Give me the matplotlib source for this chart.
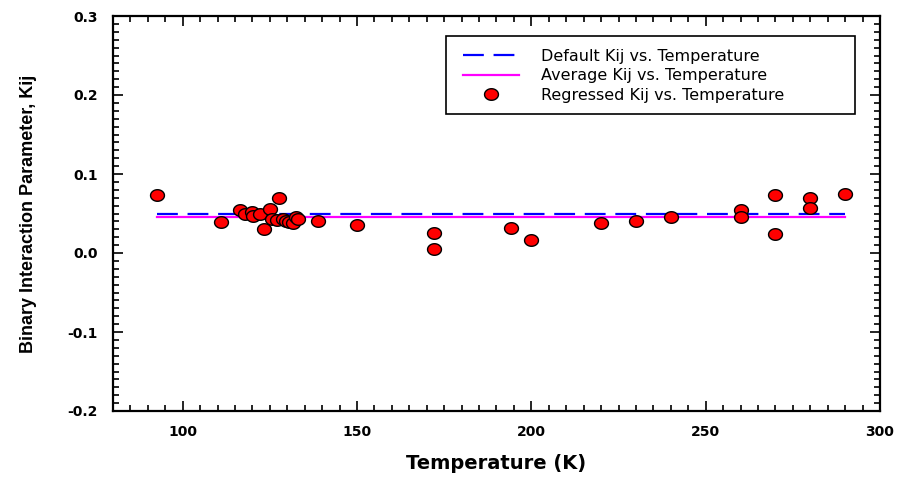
import matplotlib
matplotlib.use("Agg")
import matplotlib.pyplot as plt
import numpy as np
from matplotlib.path import Path
from matplotlib.patches import Rectangle
from matplotlib.ticker import MultipleLocator, FormatStrFormatter

# ---- data ----
temp_regressed = [92.7, 111.0, 116.4, 117.8, 120.0, 120.2, 122.1, 123.4, 125.0,
                  127.6, 125.6, 127.1, 128.8, 129.6, 130.5, 131.7, 132.6, 133.2,
                  138.8, 150.0, 172.0, 172.0, 194.2, 200.0, 220.0, 230.0, 240.0,
                  260.0, 260.0, 270.0, 270.0, 280.0, 280.0, 290.0]
kij_regressed = [0.073, 0.039, 0.054, 0.050, 0.052, 0.047, 0.049, 0.031, 0.056,
                 0.069, 0.043, 0.042, 0.043, 0.040, 0.039, 0.038, 0.046, 0.043,
                 0.040, 0.035, 0.025, 0.005, 0.032, 0.016, 0.038, 0.040, 0.046,
                 0.054, 0.045, 0.074, 0.024, 0.070, 0.057, 0.075]
line_temp = [92.7, 290.0]
kij_default = [0.05, 0.05]
kij_average = [0.045, 0.045]

x_ticks = [100, 150, 200, 250, 300]
y_ticks = [-0.2, -0.1, 0.0, 0.1, 0.2, 0.3]

plt.rcParams['font.family'] = ['Liberation Sans', 'DejaVu Sans']
plt.rcParams['lines.scale_dashes'] = False
WIDE = ['DejaVu Sans']

fig = plt.figure(figsize=(9.08, 4.78), dpi=100)
ax = fig.add_axes([113/908, 1-411/478, (880-113)/908, (411-16)/478])

# elliptical marker (slightly wider than tall)
t = np.linspace(0, 2*np.pi, 60)
ell = Path(np.column_stack([1.2*np.cos(t), np.sin(t)]), closed=True)

ax.plot(line_temp, kij_default, color='#0000ff', lw=1.6, dashes=(15, 7),
        label='Default Kij vs. Temperature', zorder=2)
ax.plot(line_temp, kij_average, color='#ff00ff', lw=1.6,
        label='Average Kij vs. Temperature', zorder=2)
ax.plot(temp_regressed, kij_regressed, linestyle='none', marker=ell, ms=10,
        mfc='#ff0000', mec='black', mew=1.0,
        label='Regressed Kij vs. Temperature', zorder=3)

ax.set_xlim(80, 300)
ax.set_ylim(-0.2, 0.3)
ax.set_xticks(x_ticks)
ax.set_yticks(y_ticks)
ax.xaxis.set_minor_locator(MultipleLocator(5))
ax.yaxis.set_minor_locator(MultipleLocator(0.01))
ax.yaxis.set_major_formatter(FormatStrFormatter('%.1f'))

ax.tick_params(which='both', direction='in', top=True, right=True, width=1.2,
               color='black')
ax.tick_params(which='major', length=7)
ax.tick_params(which='minor', length=4)
ax.tick_params(axis='x', which='major', pad=10, labelsize=10)
ax.tick_params(axis='y', which='major', pad=11, labelsize=10)
for lbl in ax.get_xticklabels() + ax.get_yticklabels():
    lbl.set_fontweight('bold')
    lbl.set_family(WIDE)

for s in ax.spines.values():
    s.set_linewidth(1.6)
    s.set_color('black')

ax.set_xlabel('Temperature (K)', fontsize=14, fontweight='bold', labelpad=11,
              family=WIDE)
ax.set_ylabel('Binary Interaction Parameter, Kij', fontsize=13,
              fontweight='bold', labelpad=22)

# legend frame drawn separately for exact placement
ax.add_patch(Rectangle((0.434, 0.752), 0.533, 0.197, transform=ax.transAxes,
                       facecolor='white', edgecolor='black', lw=1.2, zorder=4))
leg = ax.legend(loc='upper left', bbox_to_anchor=(0.456, 0.917),
                prop={'family': WIDE, 'size': 11.5},
                frameon=False, handlelength=3.5,
                handletextpad=1.4, labelspacing=0.28, borderpad=0,
                borderaxespad=0)
leg.set_zorder(5)

fig.savefig('out.png', dpi=100)
